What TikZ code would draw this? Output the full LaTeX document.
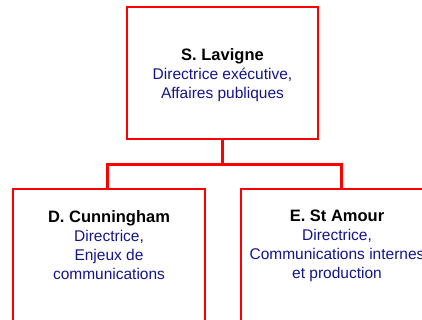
\documentclass[tikz,border=0pt]{standalone}
\usepackage{fontspec}
\setmainfont{Liberation Sans}
\usetikzlibrary{calc}
\definecolor{navytext}{RGB}{20,20,140}
\newcommand\pname[1]{{\color{black}\fontsize{16.5}{19}\selectfont\bfseries #1}}
\begin{document}
\begin{tikzpicture}[x=1pt,y=-1pt,
 box/.style={draw=red, line width=2pt, minimum width=191pt, minimum height=132pt, inner sep=0pt},
 conn/.style={draw=red, line width=3pt},
 txt/.style={align=center, inner sep=0pt, anchor=north, font=\fontsize{15.5}{19}\selectfont, text=navytext}]
\useasboundingbox (0,0) rectangle (422,320);
\clip (0,0) rectangle (422,320);
\node[box] (top) at (222.5,73) {};
\node[box, minimum width=192pt, minimum height=180pt, anchor=north] (bl) at (109,188) {};
\node[box, minimum width=192pt, minimum height=180pt, anchor=north] (br) at (337,188) {};
\draw[conn] (top.south) -- ++(0,25) coordinate (j);
\draw[conn] ($(bl.north)+(-2,0)$) |- (j) -| ($(br.north)+(4,0)$);
\node[txt] (t0) at (222.5,48) {\pname{S. Lavigne}\\Directrice exécutive,\\Affaires publiques};
\node[txt] (t1) at (109,210) {\pname{D. Cunningham}\\Directrice,\\Enjeux de\\communications};
\node[txt] (t2) at (337,210) {\pname{E. St Amour}\\Directrice,\\Communications internes\\et production};
\end{tikzpicture}
\end{document}
